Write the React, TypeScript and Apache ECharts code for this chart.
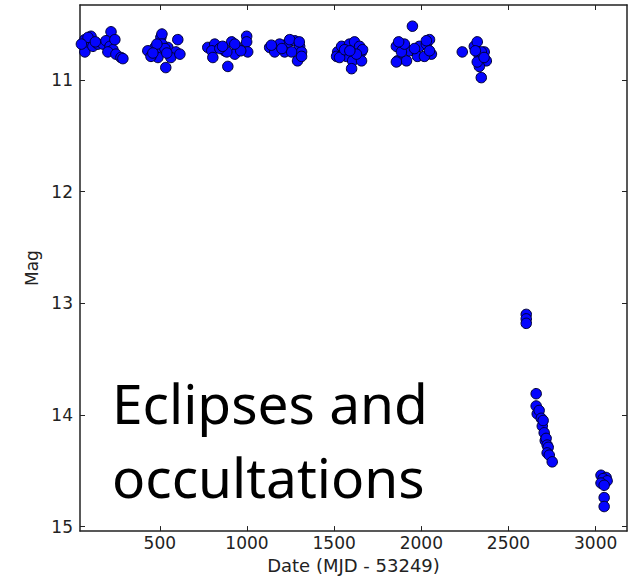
import React, { useEffect, useRef } from "react";
import * as echarts from "echarts";

// Tick labels
const xTickValues = [500, 1000, 1500, 2000, 2500, 3000];
const yTickValues = [11, 12, 13, 14, 15];

// Observing seasons: [date (MJD - 53249), mag]
const season1 = [
  [70, 10.64], [76, 10.71], [70, 10.75], [105, 10.61], [116, 10.70], [145, 10.68],
  [174, 10.68], [220, 10.57], [191, 10.65], [214, 10.70], [231, 10.73], [202, 10.75],
  [248, 10.77], [277, 10.80], [242, 10.64], [288, 10.81], [88, 10.62], [50, 10.68], [130, 10.66],
];
const season2 = [
  [506, 10.62], [472, 10.71], [431, 10.74], [506, 10.74], [546, 10.71], [603, 10.64],
  [592, 10.75], [489, 10.80], [534, 10.89], [563, 10.80], [449, 10.79], [512, 10.59],
  [615, 10.77], [512, 10.68], [529, 10.72], [483, 10.68], [540, 10.76], [460, 10.76],
];
const season3 = [
  [775, 10.71], [815, 10.68], [872, 10.74], [912, 10.66], [947, 10.71], [998, 10.61],
  [998, 10.66], [1004, 10.75], [890, 10.88], [798, 10.74], [930, 10.77], [804, 10.80],
  [884, 10.75], [844, 10.72], [964, 10.74], [860, 10.70], [930, 10.68],
];
const season4 = [
  [1130, 10.71], [1176, 10.70], [1228, 10.68], [1273, 10.65], [1302, 10.70], [1290, 10.83],
  [1313, 10.75], [1216, 10.75], [1159, 10.75], [1256, 10.75], [1187, 10.68], [1245, 10.64],
  [1300, 10.66], [1200, 10.72], [1140, 10.69], [1313, 10.79],
];
const season5 = [
  [1520, 10.75], [1543, 10.70], [1588, 10.68], [1617, 10.66], [1646, 10.70], [1657, 10.75],
  [1571, 10.79], [1606, 10.83], [1600, 10.90], [1514, 10.79], [1663, 10.73], [1657, 10.83],
  [1531, 10.80], [1560, 10.73], [1628, 10.77], [1590, 10.74],
];
const season6 = [
  [1949, 10.52], [1857, 10.70], [1863, 10.83], [1915, 10.83], [1932, 10.74], [1989, 10.70],
  [2029, 10.68], [1886, 10.75], [2047, 10.64], [2058, 10.77], [1978, 10.79], [2018, 10.79],
  [1857, 10.84], [1903, 10.68], [1961, 10.72], [2029, 10.65], [2047, 10.74], [1870, 10.66],
];
const season7 = [
  [2235, 10.75], [2304, 10.70], [2333, 10.79], [2361, 10.75], [2373, 10.83], [2333, 10.88],
  [2344, 10.98], [2321, 10.66], [2321, 10.84], [2344, 10.75], [2310, 10.74], [2360, 10.80],
];
const eclipseStart = [[2602, 13.10], [2602, 13.14], [2602, 13.18]];
const eclipseDescent = [
  [2659, 13.81], [2659, 13.92], [2665, 13.99], [2676, 13.96], [2688, 14.03], [2694, 14.10],
  [2699, 14.05], [2705, 14.16], [2711, 14.23], [2716, 14.21], [2722, 14.27], [2728, 14.29],
  [2722, 14.34], [2734, 14.36], [2751, 14.42],
];
const eclipseLate = [
  [3031, 14.54], [3060, 14.56], [3043, 14.57], [3066, 14.59], [3031, 14.61], [3049, 14.63],
  [3049, 14.74], [3049, 14.82],
];

const allPoints = [
  ...season1, ...season2, ...season3, ...season4, ...season5, ...season6, ...season7,
  ...eclipseStart, ...eclipseDescent, ...eclipseLate,
];

const X_MIN = 42;
const X_MAX = 3180;
const Y_MIN = 10.33;
const Y_MAX = 15.04;

export default function App() {
  const ref = useRef<HTMLDivElement>(null);
  useEffect(() => {
    if (!ref.current) return;
    const chart = echarts.init(ref.current, undefined, { renderer: "svg" });
    const frame = { show: true, onZero: false, lineStyle: { color: "#222", width: 1.5 } };
    const tickStyle = { lineStyle: { color: "#222", width: 1 } };
    const labelFont = { fontFamily: "DejaVu Sans", fontSize: 17, color: "#222" };
    const plain = (v: number) => String(v);
    chart.setOption({
      animation: false,
      backgroundColor: "#fff",
      grid: { left: 80, right: 8, top: 5, bottom: 42, containLabel: false },
      xAxis: [
        {
          type: "value", min: X_MIN, max: X_MAX, position: "bottom",
          name: "Date (MJD - 53249)", nameLocation: "middle", nameGap: 22,
          nameTextStyle: { fontFamily: "DejaVu Sans", fontSize: 18, color: "#222" },
          axisLine: frame,
          axisTick: { show: true, inside: true, length: 5, customValues: xTickValues, ...tickStyle },
          axisLabel: { show: true, margin: 3, customValues: xTickValues, formatter: plain, ...labelFont },
          splitLine: { show: false },
        },
        {
          type: "value", min: X_MIN, max: X_MAX, position: "top",
          axisLine: frame,
          axisTick: { show: true, inside: true, length: 5, customValues: xTickValues, ...tickStyle },
          axisLabel: { show: false, customValues: xTickValues },
          splitLine: { show: false },
        },
      ],
      yAxis: [
        {
          type: "value", min: Y_MIN, max: Y_MAX, inverse: true, position: "left",
          name: "Mag", nameLocation: "middle", nameGap: 40,
          nameTextStyle: { fontFamily: "DejaVu Sans", fontSize: 17, color: "#222" },
          axisLine: frame,
          axisTick: { show: true, inside: true, length: 5, customValues: yTickValues, ...tickStyle },
          axisLabel: { show: true, margin: 7, customValues: yTickValues, formatter: plain, ...labelFont },
          splitLine: { show: false },
        },
        {
          type: "value", min: Y_MIN, max: Y_MAX, inverse: true, position: "right",
          axisLine: frame,
          axisTick: { show: true, inside: true, length: 5, customValues: yTickValues, ...tickStyle },
          axisLabel: { show: false, customValues: yTickValues },
          splitLine: { show: false },
        },
      ],
      series: [
        {
          type: "scatter",
          xAxisIndex: 0,
          yAxisIndex: 0,
          data: allPoints,
          symbol: "circle",
          symbolSize: 10.5,
          clip: true,
          itemStyle: { color: "#0505ff", borderColor: "#000033", borderWidth: 1, opacity: 1 },
        },
      ],
      graphic: [
        {
          type: "text", left: 112, top: 375,
          style: { text: "Eclipses and", fontFamily: "Noto Sans", fontSize: 55, fill: "#000" },
        },
        {
          type: "text", left: 112, top: 449,
          style: { text: "occultations", fontFamily: "Noto Sans", fontSize: 55, fill: "#000" },
        },
      ],
    });
    return () => chart.dispose();
  }, []);
  return (
    <div
      ref={ref}
      style={{ position: "absolute", left: 0, top: 0, width: 635, height: 579 }}
    />
  );
}
